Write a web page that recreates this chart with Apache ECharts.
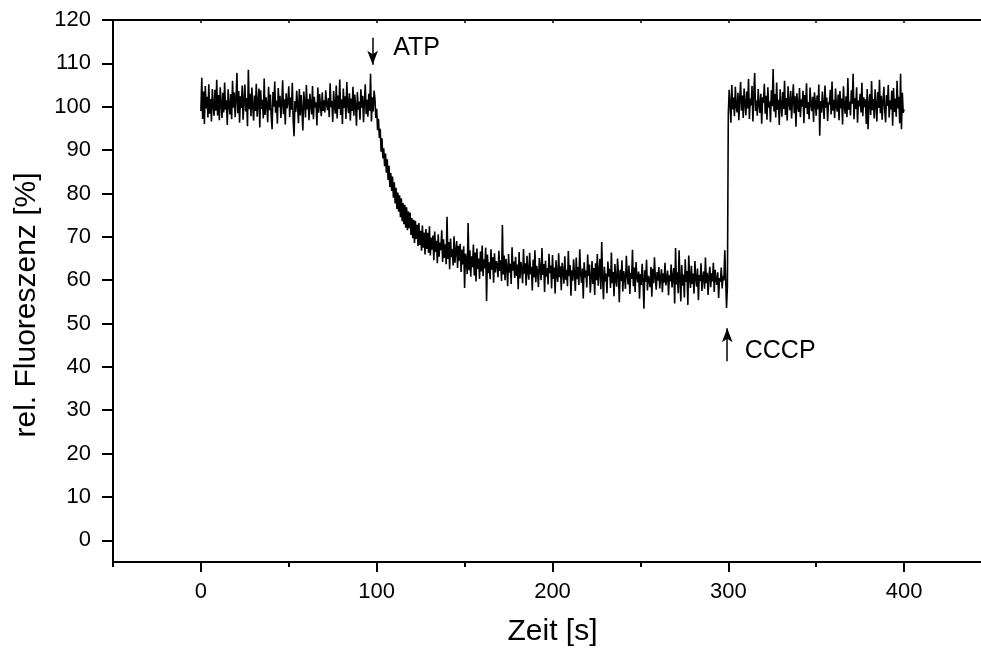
<!DOCTYPE html>
<html><head><meta charset="utf-8">
<script src="https://cdn.jsdelivr.net/npm/echarts@6/dist/echarts.min.js"></script>
<style>html,body{margin:0;padding:0;background:#fff;overflow:hidden}#c{width:992px;height:652px}</style>
</head><body><div id="c"></div>
<script>
// fluorescence before ATP addition, t = 0 ... 98.5 s (0.5 s steps)
const preATP = [
99.0,106.7,97.2,103.5,96.0,104.8,99.6,102.3,97.5,105.2,98.4,101.8,96.6,104.1,100.2,97.9,103.9,99.1,106.2,98.0,
102.7,96.9,104.5,100.8,97.4,103.2,98.7,105.6,99.3,101.5,95.8,104.0,100.4,98.2,102.9,97.1,106.0,99.8,103.3,97.6,
101.9,107.8,98.5,103.6,96.3,102.4,99.7,104.9,97.0,101.2,105.1,98.9,102.0,95.5,108.5,99.4,103.0,97.8,104.4,100.1,
96.8,102.6,99.0,105.3,97.7,101.0,104.2,95.2,103.8,99.5,101.6,97.3,106.5,98.1,102.2,100.6,96.4,104.6,99.2,102.8,
97.9,94.8,103.4,100.0,105.8,98.6,101.4,96.1,104.3,99.9,102.5,97.4,100.7,106.1,98.3,101.7,95.9,103.1,99.6,101.1,
104.7,97.6,102.1,99.3,105.5,96.7,93.2,101.3,98.8,103.7,100.3,96.2,104.1,98.0,102.7,99.1,94.5,103.5,100.9,97.5,
105.0,99.4,101.8,96.9,103.0,100.5,98.2,104.8,97.1,102.3,99.8,101.0,95.7,104.4,98.6,102.9,100.2,97.8,103.3,99.0,
101.5,98.7,103.8,100.6,99.2,102.0,97.6,105.4,99.9,101.3,96.5,103.6,100.1,98.4,104.9,97.3,102.6,99.5,106.3,98.1,
101.7,96.0,104.2,99.7,102.4,97.2,105.7,100.4,98.5,103.1,96.8,101.9,99.0,104.6,97.9,102.8,100.0,95.6,103.4,99.3,
101.2,97.0,104.0,99.8,102.5,96.4,100.9,105.2,98.3,101.6,97.7,103.0,99.1,107.6,96.6,102.2,98.9,103.7
];
// after ATP, t = 99 ... 299.5 s
const afterATP = [
101.8,97.4,99.5,94.6,97.2,92.8,94.9,89.6,92.7,88.1,90.4,86.3,89.2,84.8,87.9,83.1,86.4,81.5,84.7,80.6,
83.9,79.0,82.6,77.7,81.3,76.4,80.2,75.8,79.6,74.5,78.9,73.6,77.8,72.9,77.4,72.1,76.8,71.5,75.9,72.0,
75.6,70.4,74.3,69.7,73.9,68.6,73.7,69.5,72.8,67.9,73.2,68.1,71.4,66.8,72.6,67.5,71.0,65.9,71.8,67.2,
70.9,66.3,72.4,65.7,69.8,67.0,70.3,64.6,71.2,66.5,69.1,63.9,70.6,65.4,68.7,66.9,71.5,64.2,69.4,65.1,
68.3,63.7,74.6,64.9,68.8,62.5,69.6,65.3,67.2,63.4,70.1,64.0,66.7,69.0,62.8,67.9,64.5,68.4,61.9,67.0,
63.6,67.8,58.2,66.1,64.7,61.4,73.2,62.3,66.9,60.8,65.5,63.0,68.2,61.1,66.4,59.7,67.3,62.6,65.0,60.3,
66.6,62.0,68.0,60.9,64.8,62.7,67.5,55.2,65.9,61.6,64.1,60.2,67.1,62.4,65.3,59.4,66.2,61.8,64.4,63.5,
60.7,66.8,62.1,64.6,59.8,72.7,61.3,65.7,60.0,64.9,62.9,58.6,66.0,61.7,63.8,59.1,67.6,62.2,64.3,60.5,
65.4,61.0,63.6,57.9,66.5,60.4,64.2,62.6,59.3,67.2,61.5,63.9,58.8,65.6,62.0,60.1,66.3,61.4,63.1,57.6,
64.7,60.6,66.9,59.5,63.3,61.9,58.4,65.1,62.5,60.0,67.4,61.2,63.7,57.3,64.5,60.8,62.8,59.0,66.1,61.6,
63.4,58.1,65.8,60.3,62.9,56.9,64.6,61.1,59.6,66.2,60.7,63.2,57.7,64.0,61.9,59.2,65.5,60.1,62.4,58.6,
66.7,60.9,63.5,56.4,62.3,59.9,64.8,61.4,57.5,65.2,60.2,63.0,58.9,67.1,61.6,59.4,62.7,55.8,64.1,60.6,
62.2,58.3,65.9,61.0,63.6,57.1,60.5,64.4,59.1,62.8,56.6,63.9,60.0,66.0,58.7,61.8,64.9,57.9,68.8,60.4,
55.6,63.1,59.7,61.5,57.0,64.3,60.8,62.6,58.2,66.4,59.3,61.9,56.3,63.7,60.1,58.5,65.0,61.3,54.9,62.4,
59.8,64.6,57.4,62.1,60.6,58.0,65.6,61.2,59.0,63.4,56.8,61.7,60.3,67.0,58.6,62.9,57.3,64.2,60.7,59.5,
62.0,55.7,61.4,58.9,63.8,60.2,53.4,62.3,59.6,64.7,57.6,61.0,60.0,58.4,63.1,56.2,62.6,59.3,65.3,60.5,
57.8,61.9,59.9,63.0,58.1,60.8,62.5,57.2,61.6,59.4,64.0,58.8,60.4,62.2,56.5,61.1,59.7,63.6,58.3,60.9,
62.8,54.6,67.4,59.0,61.8,57.0,66.9,60.1,55.1,63.5,58.7,61.3,56.0,64.8,59.6,62.1,54.3,65.7,60.6,58.2,
63.3,59.1,61.5,56.9,64.4,60.3,58.5,62.7,55.4,61.2,59.8,63.9,57.5,60.7,62.0,58.0,65.2,59.3,61.7,56.6,
60.9,63.1,58.4,61.6,59.7,64.0,57.3,62.4,60.2,58.9,61.8,55.9,60.5,59.6,62.9,58.1,61.0,59.9,66.9,60.4,
53.6,58.8
];
// after CCCP, t = 300 ... 400 s
const afterCCCP = [
98.2,103.9,100.6,96.3,105.0,99.4,102.1,97.8,104.6,100.0,98.7,103.2,96.9,101.8,105.7,99.1,102.6,97.4,104.2,100.7,
98.0,103.5,99.6,106.4,97.2,101.9,100.3,104.8,96.6,102.8,107.8,99.0,101.4,97.9,104.1,100.5,98.6,103.0,96.1,102.2,
100.9,105.3,98.4,102.5,97.0,104.5,99.8,101.2,96.4,103.8,100.1,108.7,98.9,102.9,97.5,105.6,99.3,101.6,95.8,104.0,
100.4,97.7,103.4,99.5,106.0,98.1,102.0,96.8,104.7,100.8,99.2,103.6,97.3,101.5,105.2,98.5,102.4,95.4,103.1,100.2,
98.8,104.3,97.6,101.7,100.0,103.7,96.2,102.7,99.7,105.4,98.3,101.1,97.1,104.4,100.6,99.0,102.3,96.5,103.3,100.9,
97.9,102.6,99.4,105.1,93.3,101.3,98.6,103.5,100.3,97.2,104.9,99.8,102.1,96.7,101.0,100.5,103.9,98.2,105.8,99.1,
101.6,97.4,104.2,100.0,98.9,102.8,96.9,103.6,99.6,101.9,95.9,104.7,100.2,98.4,102.4,97.6,106.6,99.3,101.2,98.0,
103.8,100.7,107.6,97.1,102.0,99.5,104.5,96.3,101.4,100.1,103.0,98.7,105.5,97.8,102.2,99.9,101.7,96.0,104.1,94.8,
100.8,102.9,98.1,105.9,99.2,101.8,97.3,104.0,100.4,96.6,103.4,99.7,106.2,98.5,102.5,97.0,101.1,104.6,99.0,96.4,
102.7,100.2,105.0,97.5,101.5,99.4,103.7,95.6,104.3,98.8,101.9,97.7,106.0,99.6,102.3,96.2,107.6,94.8,103.2,98.6,
99.4
];
const timeStep = 0.5;
const xMajorTicks = [0, 100, 200, 300, 400];
const xMinorTicks = [-50, 50, 150, 250, 350, 450];
const xTopTicks = [-50, 0, 50, 100, 150, 200, 250, 300, 350, 400, 450];
const yTicks = [0, 10, 20, 30, 40, 50, 60, 70, 80, 90, 100, 110, 120];
// annotations: [label, arrow x, arrow start y, arrow tip y, label x, label y]
const annotations = [
  ['ATP', 97.7, 115.9, 109.7, 122.7, 113.5],
  ['CCCP', 299.4, 41.3, 48.9, 329.5, 43.7]
];

const FONT = "'Liberation Sans', Arial, Helvetica, sans-serif";
const values = preATP.concat(afterATP, afterCCCP);
const data = values.map((v, i) => [i * timeStep, v]);
const black = '#000';

const chart = echarts.init(document.getElementById('c'), null, {renderer: 'canvas'});
const xBase = {type: 'value', min: -50, max: 450, splitLine: {show: false}};
chart.setOption({
  animation: false,
  backgroundColor: '#fff',
  grid: {left: 113, top: 20, width: 879, height: 545, containLabel: false},
  xAxis: [
    Object.assign({}, xBase, {
      position: 'bottom',
      axisLine: {show: true, onZero: false, lineStyle: {color: black, width: 2}},
      axisTick: {show: true, customValues: xMajorTicks, length: 10, lineStyle: {color: black, width: 2}},
      axisLabel: {show: true, customValues: xMajorTicks, color: black, fontSize: 22, fontFamily: FONT, margin: 19},
      name: 'Zeit [s]', nameLocation: 'middle', nameGap: 55,
      nameTextStyle: {color: black, fontSize: 30, fontFamily: FONT}
    }),
    Object.assign({}, xBase, {
      position: 'bottom',
      axisLine: {show: false, onZero: false},
      axisTick: {show: true, customValues: xMinorTicks, length: 5, lineStyle: {color: black, width: 2}},
      axisLabel: {show: false}
    }),
    Object.assign({}, xBase, {
      position: 'top',
      axisLine: {show: true, onZero: false, lineStyle: {color: black, width: 2}},
      axisTick: {show: true, customValues: xTopTicks, inside: true, length: 3, lineStyle: {color: black, width: 1.5}},
      axisLabel: {show: false}
    })
  ],
  yAxis: {
    type: 'value', min: -5, max: 120,
    splitLine: {show: false},
    axisLine: {show: true, onZero: false, lineStyle: {color: black, width: 2}},
    axisTick: {show: true, customValues: yTicks, length: 11, lineStyle: {color: black, width: 2}},
    axisLabel: {show: true, customValues: yTicks, color: black, fontSize: 22, fontFamily: FONT, margin: 22},
    name: 'rel. Fluoreszenz [%]', nameLocation: 'middle', nameGap: 71, nameRotate: 90,
    nameTextStyle: {color: black, fontSize: 30, fontFamily: FONT, padding: [0, 28, 0, 0]}
  },
  series: [{
    type: 'line', xAxisIndex: 0, yAxisIndex: 0,
    data: data, showSymbol: false, symbol: 'none',
    lineStyle: {color: black, width: 1.6},
    silent: true,
    markLine: {
      silent: true, animation: false,
      symbol: ['none', 'arrow'], symbolSize: [8, 14],
      lineStyle: {color: black, width: 1.5, type: 'solid'},
      label: {show: false},
      data: annotations.map(a => [{coord: [a[1], a[2]]}, {coord: [a[1], a[3]]}])
    },
    markPoint: {
      silent: true, animation: false,
      symbol: 'rect', symbolSize: 1,
      itemStyle: {color: 'rgba(0,0,0,0)'},
      label: {show: true, position: 'inside', formatter: '{b}', color: black, fontSize: 25, fontFamily: FONT},
      data: annotations.map(a => ({name: a[0], coord: [a[4], a[5]]}))
    }
  }]
});
</script>
</body></html>
